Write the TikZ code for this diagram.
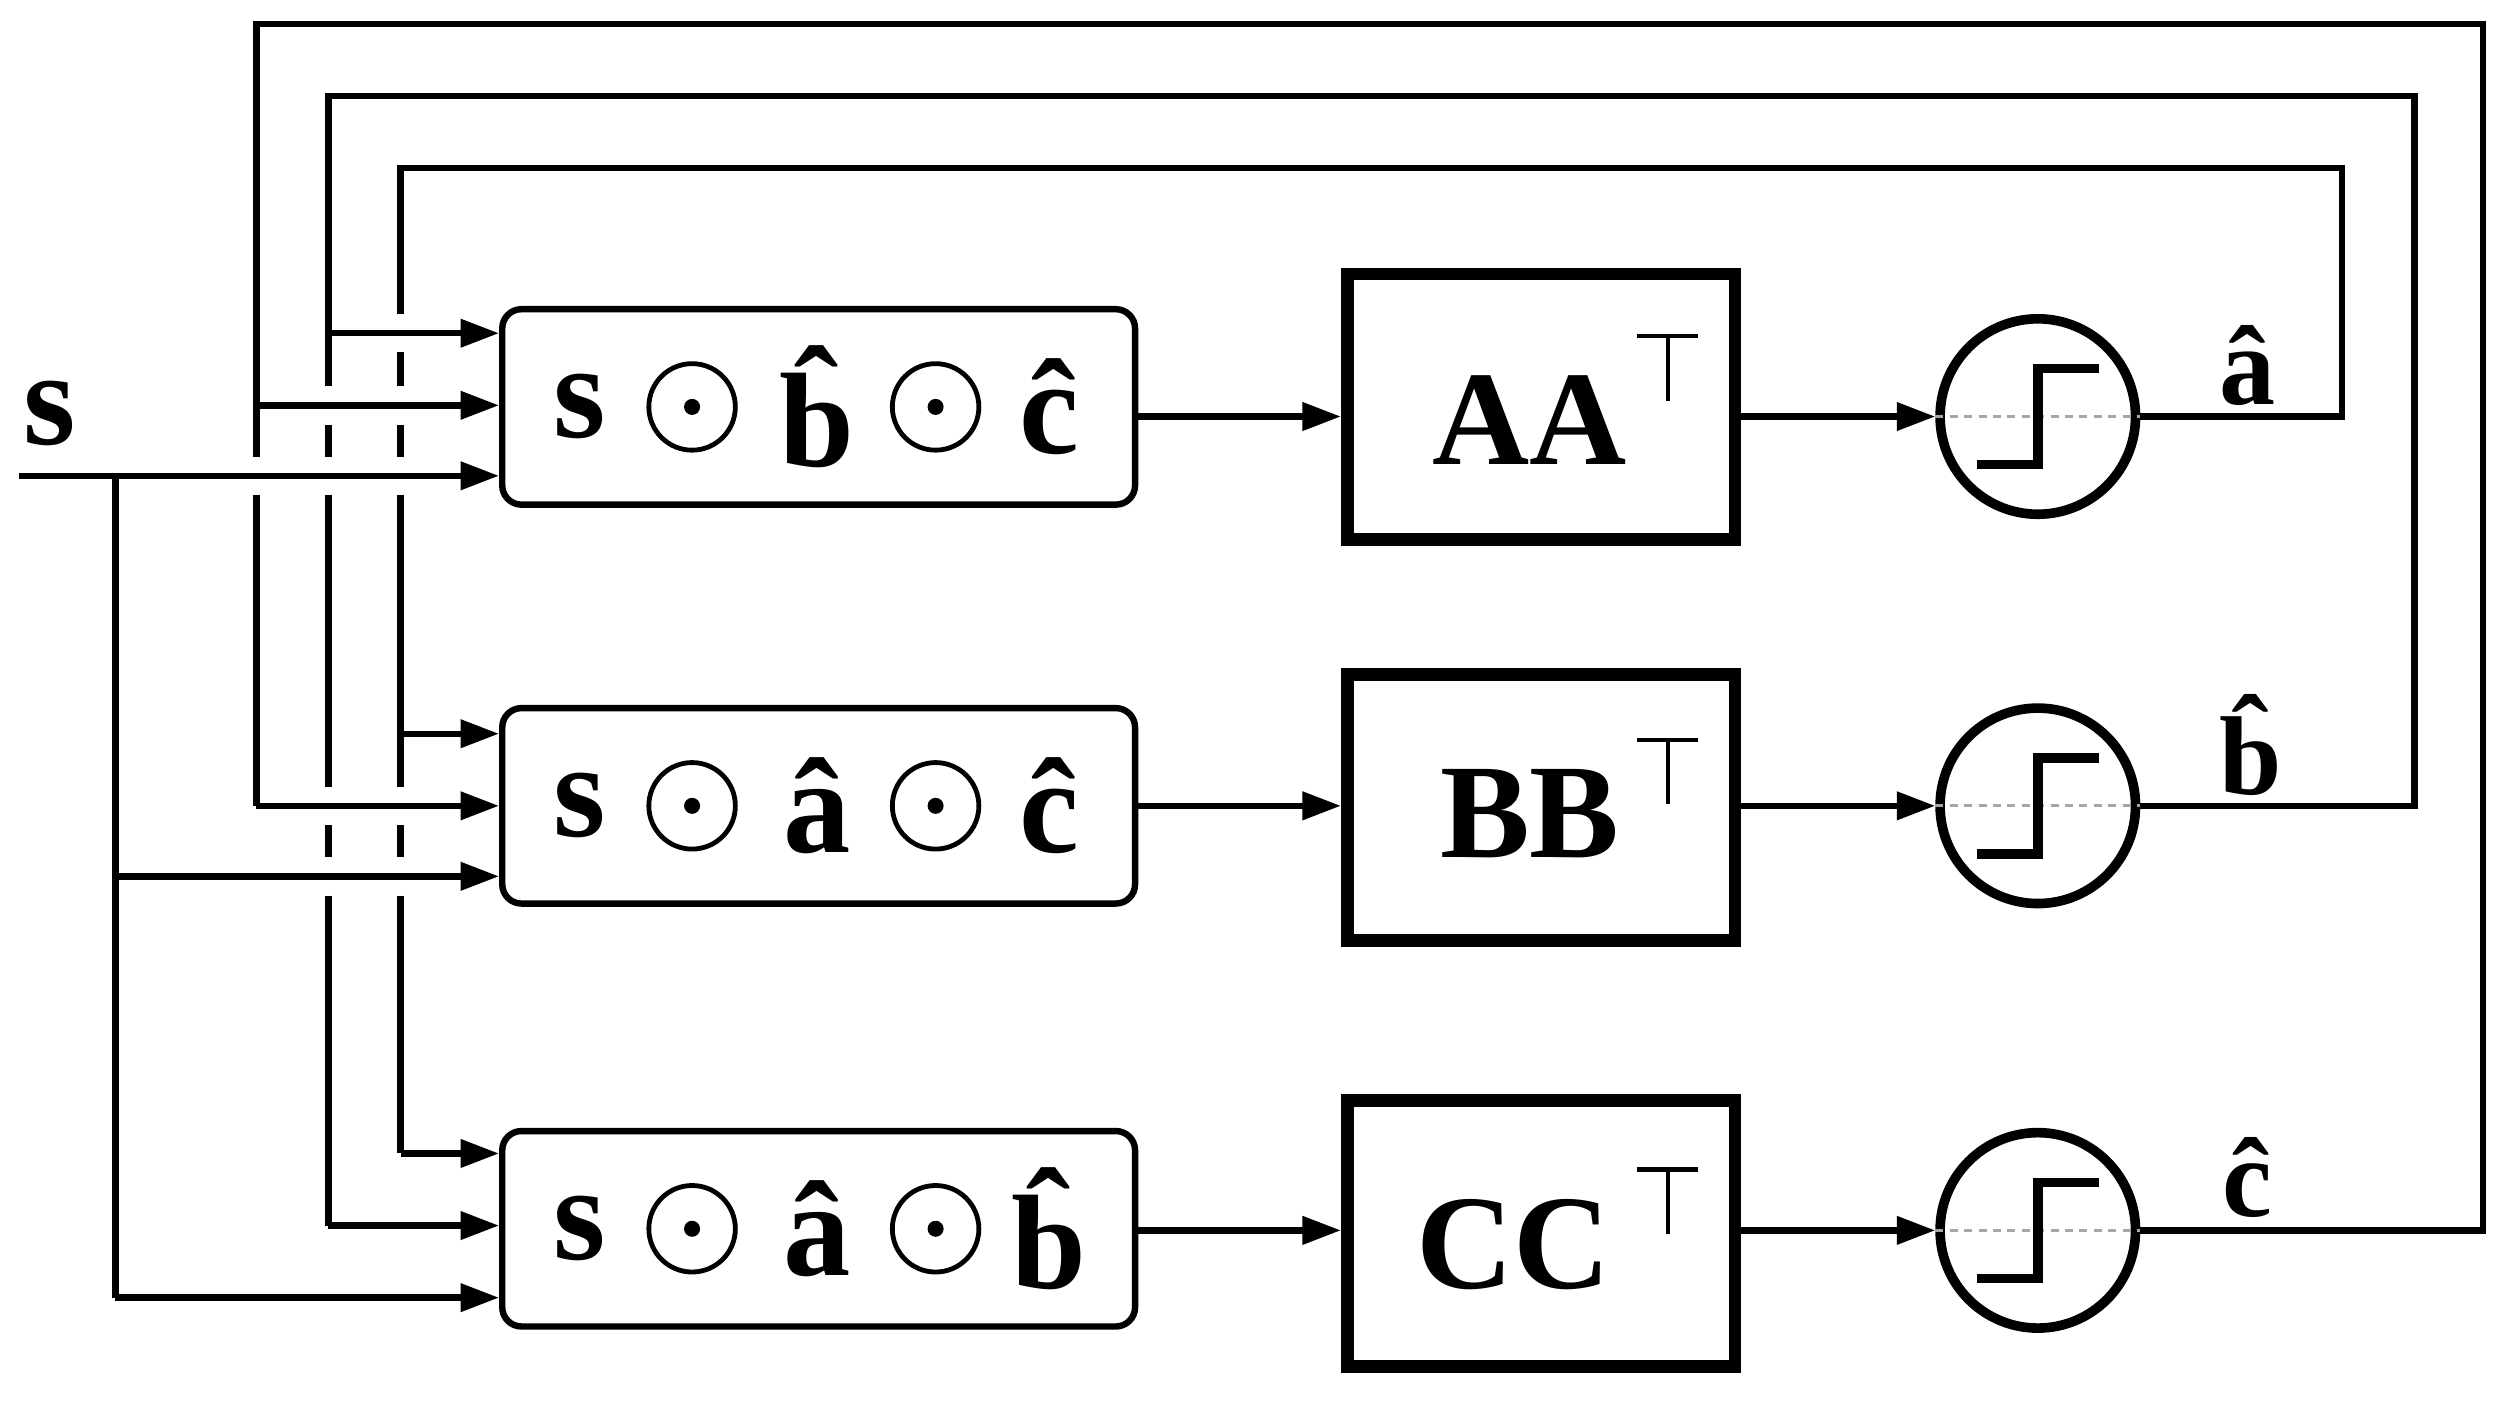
\documentclass[tikz,border=0pt]{standalone}
\usepackage{fontspec}
\setmainfont{Liberation Serif}
\usetikzlibrary{arrows.meta}
\begin{document}
\begin{tikzpicture}[x=1pt,y=-1pt,line width=4pt,
  arr/.style={-{Triangle[length=24pt,width=17pt]}},
  prod/.style={draw,rounded corners=12pt,line width=4pt,minimum width=395pt,minimum height=122pt},
  mat/.style={draw,line width=8pt,minimum width=242pt,minimum height=166pt},
  thr/.style={draw,circle,line width=6pt,minimum size=122pt},
  odot/.style={draw,circle,line width=3pt,minimum size=54pt,inner sep=0pt},
  big/.style={font=\fontsize{84}{90}\selectfont\bfseries,inner sep=0pt},
  lab/.style={font=\fontsize{70}{70}\selectfont\bfseries,inner sep=0pt}]
\useasboundingbox (0,0) rectangle (1568,874);
% rows
\foreach \r/\y/\ya in {1/254/260,2/503/503,3/767/768}{
  \node[prod] (p\r) at (511,\y) {};
  \node[thr] (t\r) at (1272,\ya) {};
  \draw[line width=2pt,gray!70,dash pattern=on 5pt off 4pt] (t\r.west) -- (t\r.east);
  \draw[line width=6pt] ([xshift=-38pt,yshift=-30pt]t\r.center) -- ([yshift=-30pt]t\r.center) -- ([yshift=30pt]t\r.center) -- ([xshift=38pt,yshift=30pt]t\r.center);
}
\node[mat] (m1) at (962,254) {};
\node[mat] (m2) at (962,504) {};
\node[mat] (m3) at (962,770) {};
\node[big] at (955,262) {AA};
\node[big] at (955,508) {BB};
\node[big] at (945,777) {CC};
\foreach \xx/\yy in {1041/210,1041/462,1041/730}{
  \draw[line width=2.5pt] (\xx-19,\yy) -- (\xx+19,\yy) (\xx,\yy) -- (\xx,\yy+40);
}
\draw[arr] (p1.east|-0,260) -- (m1.west|-0,260);
\draw[arr] (p2.east|-0,503) -- (m2.west|-0,503);
\draw[arr] (p3.east|-0,768) -- (m3.west|-0,768);
\draw[arr] (m1.east|-0,260) -- (t1.west);
\draw[arr] (m2.east|-0,503) -- (t2.west);
\draw[arr] (m3.east|-0,768) -- (t3.west);
% product texts
\foreach \r/\y/\u/\v in {1/254/b/c,2/503/a/c,3/767/a/b}{
  \node[big] at (362,\y) {s};
  \node[odot] (o\r a) at (432,\y) {}; \fill (o\r a) circle (5pt);
  \node[big] at (510,\y) {\^\u};
  \node[odot] (o\r b) at (584,\y) {}; \fill (o\r b) circle (5pt);
  \node[big] at (655,\y) {\^\v};
}
\node[lab] at (1403,228) {\^a};
\node[lab] at (1405,465) {\^b};
\node[lab] at (1403,735) {\^c};
\node[big] (s) at (31,258) {s};
% feedback loops
\draw (t1.east) -- (1462,260) -- (1462,105) -- (250,105) -- (250,196);
\draw (t2.east) -- (1507,503) -- (1507,60) -- (205,60) -- (205,241);
\draw (t3.east) -- (1550,768) -- (1550,15) -- (160,15) -- (160,285);
\draw (160,309) -- (160,503);
\draw (205,265) -- (205,285); \draw (205,309) -- (205,491); \draw (205,515) -- (205,535); \draw (205,559) -- (205,765);
\draw (250,220) -- (250,241); \draw (250,265) -- (250,285); \draw (250,309) -- (250,491); \draw (250,515) -- (250,535); \draw (250,559) -- (250,720);
% inputs
\draw[arr] (205,208) -- (p1.west|-0,208);
\draw[arr] (160,253) -- (p1.west|-0,253);
\draw[arr] (12,297) -- (p1.west|-0,297);
\draw[arr] (250,458) -- (p2.west|-0,458);
\draw[arr] (160,503) -- (p2.west|-0,503);
\draw[arr] (72,547) -- (p2.west|-0,547);
\draw[arr] (250,720) -- (p3.west|-0,720);
\draw[arr] (205,765) -- (p3.west|-0,765);
\draw (72,297) -- (72,810);
\draw[arr] (72,810) -- (p3.west|-0,810);
\end{tikzpicture}
\end{document}
